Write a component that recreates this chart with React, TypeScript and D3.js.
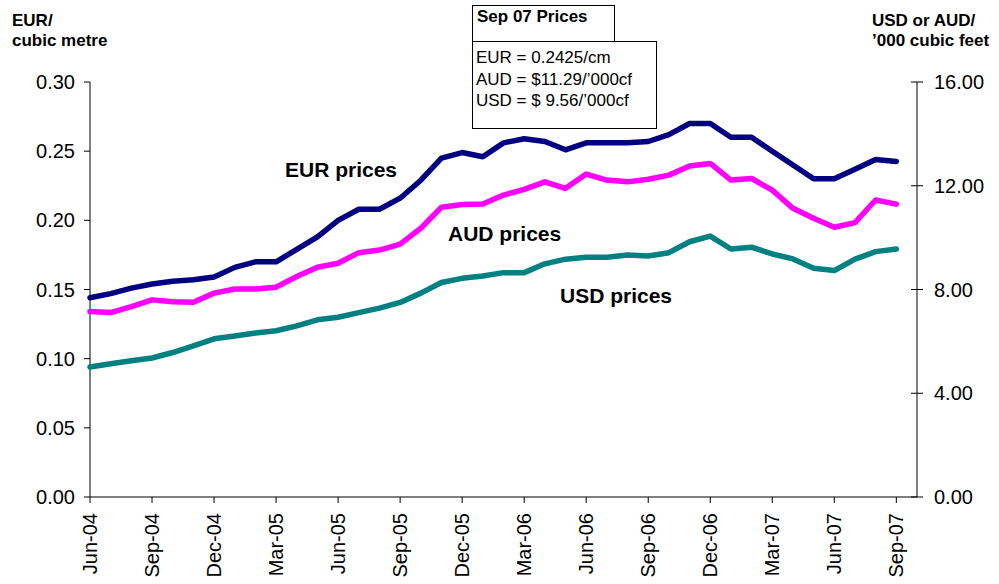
import React from "react";
import * as d3 from "d3";

// monthly series, Jun-04 .. Sep-07
const eurPrices = [0.144, 0.147, 0.151, 0.154, 0.156, 0.157, 0.159, 0.166, 0.170, 0.170, 0.179, 0.188, 0.200, 0.208, 0.208, 0.216, 0.229, 0.245, 0.249, 0.246, 0.256, 0.259, 0.257, 0.251, 0.256, 0.256, 0.256, 0.257, 0.262, 0.270, 0.270, 0.260, 0.260, 0.250, 0.240, 0.230, 0.230, 0.237, 0.244, 0.2425];
const audPrices = [7.15, 7.11, 7.34, 7.60, 7.53, 7.51, 7.86, 8.02, 8.02, 8.09, 8.50, 8.86, 9.01, 9.42, 9.52, 9.75, 10.36, 11.17, 11.28, 11.30, 11.64, 11.86, 12.15, 11.90, 12.45, 12.22, 12.15, 12.25, 12.41, 12.76, 12.86, 12.22, 12.28, 11.83, 11.13, 10.75, 10.40, 10.58, 11.45, 11.29];
const usdPrices = [5.01, 5.14, 5.25, 5.36, 5.57, 5.83, 6.10, 6.21, 6.32, 6.41, 6.60, 6.83, 6.93, 7.11, 7.28, 7.50, 7.86, 8.27, 8.43, 8.52, 8.65, 8.65, 8.99, 9.17, 9.24, 9.24, 9.33, 9.29, 9.42, 9.84, 10.06, 9.56, 9.63, 9.37, 9.18, 8.82, 8.73, 9.17, 9.46, 9.56];

const tickLabels = ["Jun-04", "Sep-04", "Dec-04", "Mar-05", "Jun-05", "Sep-05", "Dec-05", "Mar-06", "Jun-06", "Sep-06", "Dec-06", "Mar-07", "Jun-07", "Sep-07"];
const leftTicks = [0, 0.05, 0.1, 0.15, 0.2, 0.25, 0.3];
const rightTicks = [0, 4, 8, 12, 16];
const boxLines = ["EUR = 0.2425/cm", "AUD = $11.29/\u2019000cf", "USD = $ 9.56/\u2019000cf"];

const W = 999;
const H = 584;
const left = 90;
const right = 917;
const top = 82;
const bottom = 497;
const font = "Liberation Sans, Arial, sans-serif";

const App = () => {
  const x = d3.scaleLinear().domain([0, eurPrices.length]).range([left, right]);
  const yL = d3.scaleLinear().domain([0, 0.3]).range([bottom, top]);
  const yR = d3.scaleLinear().domain([0, 16]).range([bottom, top]);

  const lineL = d3.line<number>().x((_, i) => x(i)).y(d => yL(d));
  const lineR = d3.line<number>().x((_, i) => x(i)).y(d => yR(d));

  const series = [
    { d: lineR(usdPrices), color: "#008080" },
    { d: lineR(audPrices), color: "#FF00FF" },
    { d: lineL(eurPrices), color: "#000080" },
  ];

  return (
    <svg width={W} height={H} style={{ position: "absolute", left: 0, top: 0, background: "#fff" }} fontFamily={font}>
      <rect width={W} height={H} fill="#fff" />

      {/* axis titles */}
      <text x={12} y={26} fontSize={17} fontWeight="bold">EUR/</text>
      <text x={12} y={46} fontSize={17} fontWeight="bold">cubic metre</text>
      <text x={872} y={26} fontSize={17} fontWeight="bold">USD or AUD/</text>
      <text x={872} y={46} fontSize={17} fontWeight="bold">{"\u2019000 cubic feet"}</text>

      {/* left axis */}
      <line x1={left} x2={left} y1={top} y2={bottom} stroke="#000" />
      {leftTicks.map(t => (
        <g key={t}>
          <line x1={left - 6} x2={left} y1={yL(t)} y2={yL(t)} stroke="#000" />
          <text x={75} y={yL(t)} dy="0.35em" fontSize={20} textAnchor="end">{t.toFixed(2)}</text>
        </g>
      ))}

      {/* right axis */}
      <line x1={right} x2={right} y1={top} y2={bottom} stroke="#000" />
      {rightTicks.map(t => (
        <g key={t}>
          <line x1={right - 6} x2={right + 6} y1={yR(t)} y2={yR(t)} stroke="#000" />
          <text x={934} y={yR(t)} dy="0.35em" fontSize={20}>{t.toFixed(2)}</text>
        </g>
      ))}

      {/* bottom axis */}
      <line x1={left} x2={right} y1={bottom} y2={bottom} stroke="#000" />
      {tickLabels.map((lab, i) => {
        const tx = x(i * 3);
        return (
          <g key={lab}>
            <line x1={tx} x2={tx} y1={bottom} y2={bottom + 6} stroke="#000" />
            <text transform={`translate(${tx},513) rotate(-90)`} dy="0.35em" fontSize={20} textAnchor="end">{lab}</text>
          </g>
        );
      })}

      {/* series */}
      {series.map(s => (
        <path key={s.color} d={s.d || ""} fill="none" stroke={s.color} strokeWidth={5.5} strokeLinejoin="round" strokeLinecap="round" />
      ))}

      {/* series labels */}
      <text x={285} y={177} fontSize={21} fontWeight="bold">EUR prices</text>
      <text x={448} y={241} fontSize={21} fontWeight="bold">AUD prices</text>
      <text x={560} y={303} fontSize={21} fontWeight="bold">USD prices</text>

      {/* price box */}
      <rect x={472.5} y={5.5} width={142} height={36} fill="#fff" stroke="#000" />
      <text x={477} y={22} fontSize={17} fontWeight="bold">Sep 07 Prices</text>
      <rect x={472.5} y={41.5} width={184} height={87} fill="#fff" stroke="#000" />
      {boxLines.map((t, i) => (
        <text key={t} x={476} y={63 + i * 21.7} fontSize={17}>{t}</text>
      ))}
    </svg>
  );
};

export default App;
